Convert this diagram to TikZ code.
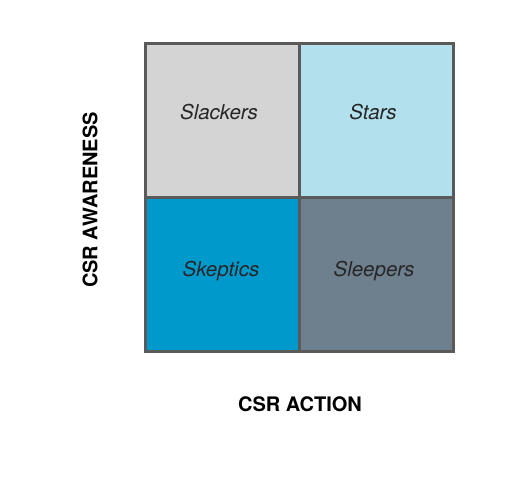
\documentclass[tikz,border=0pt]{standalone}
\usepackage{fontspec}
\setmainfont{TeX Gyre Heros}
\usetikzlibrary{positioning}
\tikzset{
  cell/.style  = {draw=gridC, line width=3pt, minimum width=154pt,
                  minimum height=154pt, inner sep=0pt, outer sep=0pt},
  lbl/.style   = {font=\fontsize{20.5}{24}\selectfont\itshape, text=black!85},
  axis/.style  = {font=\fontsize{20}{24}\selectfont\bfseries}
}
\definecolor{gridC}{RGB}{90,90,90}
\definecolor{slkC}{RGB}{212,212,212}
\definecolor{starC}{RGB}{179,224,237}
\definecolor{skpC}{RGB}{0,153,204}
\definecolor{slpC}{RGB}{110,127,142}

\begin{document}
\begin{tikzpicture}[x=1pt, y=1pt]
  \useasboundingbox (0,0) rectangle (507,481);

  %% -- Cells ------------------------------------------------------
  \node[cell, fill=slkC]  (slk)  at (222,360.5) {};
  \node[cell, fill=starC] (star) at (376,360.5) {};
  \node[cell, fill=skpC]  (skp)  at (222,206.5) {};
  \node[cell, fill=slpC]  (slp)  at (376,206.5) {};

  %% -- Cell labels ------------------------------------------------
  \node[lbl] (slkT)  at ([xshift=-3pt,yshift=8pt]slk.center)  {Slackers};
  \node[lbl] (starT) at ([xshift=-3pt,yshift=8pt]star.center) {Stars};
  \node[lbl] (skpT)  at ([xshift=-1pt,yshift=3pt]skp.center)  {Skeptics};
  \node[lbl] (slpT)  at ([xshift=-2pt,yshift=3pt]slp.center)  {Sleepers};

  %% -- Axis labels ------------------------------------------------
  \node[axis, rotate=90] (yax) at (90,281) {CSR AWARENESS};
  \node[axis]            (xax) at (300,77) {CSR ACTION};

\end{tikzpicture}
\end{document}
